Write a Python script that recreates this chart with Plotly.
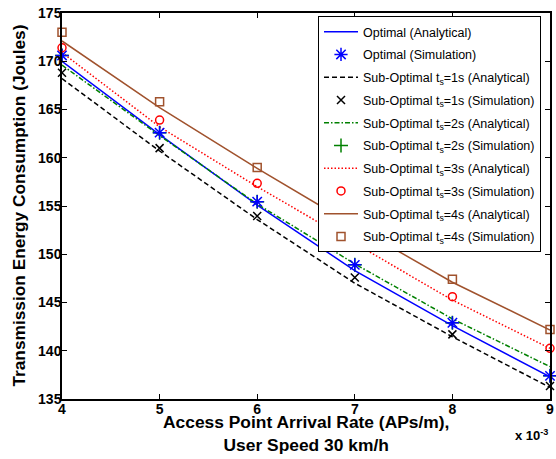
import plotly.graph_objects as go

# Access point arrival rate (APs/m)
x_vals = [0.004, 0.005, 0.006, 0.007, 0.008, 0.009]
x_tick_labels = ["4", "5", "6", "7", "8", "9"]
y_ticks = [135, 140, 145, 150, 155, 160, 165, 170, 175]

opt_ana = [170.0, 162.4, 155.1, 148.3, 142.6, 137.3]
opt_sim = [170.6, 162.6, 155.45, 148.9, 142.9, 137.4]
sub1_ana = [168.2, 160.7, 153.6, 147.0, 141.45, 136.2]
sub1_sim = [168.8, 161.0, 153.96, 147.6, 141.7, 136.35]
sub2_ana = [169.6, 162.3, 155.2, 149.0, 143.3, 138.35]
sub2_sim = [170.6, 162.6, 155.45, 148.9, 142.9, 137.4]
sub3_ana = [170.9, 163.2, 157.0, 151.1, 145.25, 140.25]
sub3_sim = [171.4, 163.9, 157.35, 151.5, 145.6, 140.25]
sub4_ana = [172.1, 165.2, 158.9, 152.9, 147.1, 142.15]
sub4_sim = [173.0, 165.8, 159.0, 153.2, 147.4, 142.2]

FONT = "Liberation Sans, Arial, Helvetica, sans-serif"

fig = go.Figure()

def line(y, name, color, dash, rank):
    fig.add_trace(go.Scatter(x=x_vals, y=y, mode="lines", name=name,
                             line=dict(color=color, width=1.5, dash=dash),
                             legendrank=rank, legendgroup=f"g{rank:02d}",
                             cliponaxis=False))

def mark(y, name, color, symbol, size, rank):
    fig.add_trace(go.Scatter(x=x_vals, y=y, mode="markers", name=name,
                             marker=dict(color=color, symbol=symbol, size=size,
                                         line=dict(color=color, width=1.5)),
                             legendrank=rank, legendgroup=f"g{rank:02d}",
                             cliponaxis=False))

ts = "t<sub>s</sub>"
line(opt_ana, "Optimal (Analytical)", "#0000ff", "solid", 1)
line(sub1_ana, f"Sub-Optimal {ts}=1s (Analytical)", "#000000", "5px,3px", 3)
line(sub2_ana, f"Sub-Optimal {ts}=2s (Analytical)", "#008000", "5px,2px,1.5px,2px", 5)
line(sub3_ana, f"Sub-Optimal {ts}=3s (Analytical)", "#ff0000", "1.5px,2px", 7)
line(sub4_ana, f"Sub-Optimal {ts}=4s (Analytical)", "#a0522d", "solid", 9)
mark(sub2_sim, f"Sub-Optimal {ts}=2s (Simulation)", "#008000", "cross-thin-open", 10, 6)
mark(opt_sim, "Optimal (Simulation)", "#0000ff", "asterisk-open", 11, 2)
mark(sub1_sim, f"Sub-Optimal {ts}=1s (Simulation)", "#000000", "x-thin-open", 8, 4)
mark(sub3_sim, f"Sub-Optimal {ts}=3s (Simulation)", "#ff0000", "circle-open", 8, 8)
mark(sub4_sim, f"Sub-Optimal {ts}=4s (Simulation)", "#a0522d", "square-open", 8, 10)

fig.update_layout(
    width=556, height=459,
    margin=dict(l=62, r=6, t=13, b=60),
    paper_bgcolor="white", plot_bgcolor="white",
    font=dict(family=FONT, color="black"),
    showlegend=True,
    legend=dict(x=0.5246, y=0.992, xanchor="left", yanchor="top",
                bgcolor="white", bordercolor="black", borderwidth=1,
                font=dict(size=12.5, family=FONT), traceorder="grouped",
                tracegroupgap=3.5, itemwidth=34),
    xaxis=dict(range=[0.004, 0.009], tickvals=x_vals, ticktext=x_tick_labels,
               showline=True, linecolor="black", linewidth=1.5, mirror="ticks",
               ticks="inside", ticklen=5, tickcolor="black", showgrid=False,
               zeroline=False, automargin=False, ticklabelstandoff=-4,
               tickfont=dict(size=14, family=FONT, weight="bold")),
    yaxis=dict(range=[135, 175], tickvals=y_ticks,
               showline=True, linecolor="black", linewidth=1.5, mirror="ticks",
               ticks="inside", ticklen=5, tickcolor="black", showgrid=False,
               zeroline=False, automargin=False, ticklabelstandoff=-4,
               tickfont=dict(size=14, family=FONT, weight="bold")),
    annotations=[
        dict(text="<b>Access Point Arrival Rate (APs/m),<br>User Speed 30 km/h</b>",
             xref="paper", yref="paper", x=0.5, y=-0.029, xanchor="center",
             yanchor="top", showarrow=False, font=dict(size=17.4, family=FONT)),
        dict(text="<b>Transmission Energy Consumption (Joules)</b>",
             xref="paper", yref="paper", x=-0.089, y=0.5, xanchor="center",
             yanchor="middle", textangle=-90, showarrow=False,
             font=dict(size=17.3, family=FONT)),
        dict(text="<b>x 10<sup>-3</sup></b>", xref="paper", yref="paper",
             x=1.0, y=-0.0933, xanchor="right", yanchor="middle",
             showarrow=False, font=dict(size=13, family=FONT)),
    ],
)

fig.write_html("out.html", config={"displayModeBar": False},
               post_script="document.body.style.margin='0px';document.body.style.overflow='hidden';")
